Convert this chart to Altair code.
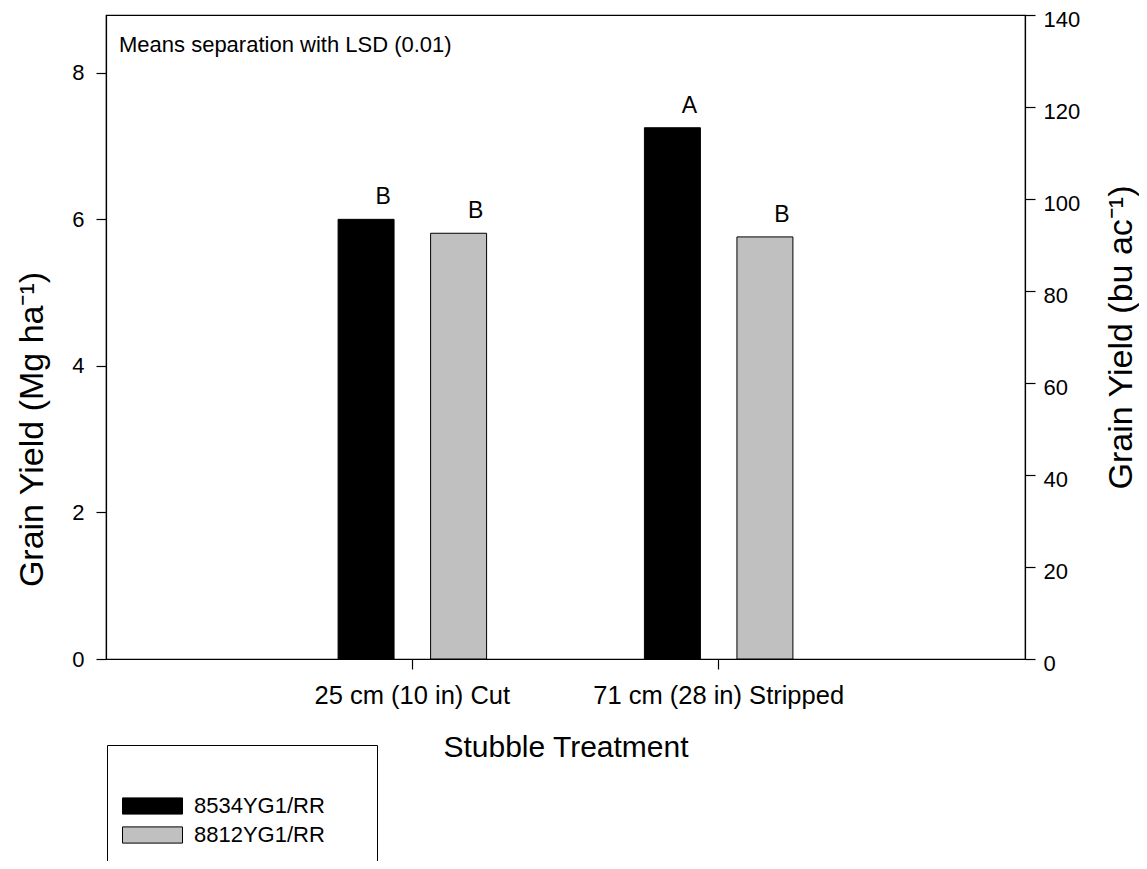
import altair as alt
import pandas as pd

# ---- data ----
treatments = ["25 cm (10 in) Cut", "25 cm (10 in) Cut",
              "71 cm (28 in) Stripped", "71 cm (28 in) Stripped"]
hybrids = ["8534YG1/RR", "8812YG1/RR", "8534YG1/RR", "8812YG1/RR"]
yield_mg = [6.00, 5.81, 7.25, 5.76]          # Mg/ha
letters = ["B", "B", "A", "B"]                # LSD (0.01) groups

treatment_order = ["25 cm (10 in) Cut", "71 cm (28 in) Stripped"]
hybrid_order = ["8534YG1/RR", "8812YG1/RR"]
hybrid_colors = ["#000000", "#c0c0c0"]

BU_PER_MG = 15.93                              # bu/ac per Mg/ha (corn)
right_max = 140
left_max = right_max / BU_PER_MG
left_ticks = [0, 2, 4, 6, 8]
right_ticks = [0, 20, 40, 60, 80, 100, 120, 140]
note = "Means separation with LSD (0.01)"

df = pd.DataFrame({"treatment": treatments, "hybrid": hybrids,
                   "yield": yield_mg, "letter": letters})
df["bu"] = df["yield"] * BU_PER_MG

FONT = "Liberation Sans"
BLANK = "\u2800"   # invisible, non-trimmed spacer used to widen the legend box

x_enc = alt.X("treatment:N", sort=treatment_order,
              scale=alt.Scale(paddingInner=0, paddingOuter=0.5),
              axis=alt.Axis(title="Stubble Treatment", labelAngle=0,
                            labelFontSize=25.5, titleFontSize=30, labelLimit=500,
                            labelPadding=14, titlePadding=24, tickSize=10))
xo_enc = alt.XOffset("hybrid:N", sort=hybrid_order,
                     scale=alt.Scale(paddingInner=0.395, paddingOuter=0.853))
y_scale = alt.Scale(domain=[0, left_max], nice=False, zero=True)
left_axis = alt.Axis(values=left_ticks, title="Grain Yield (Mg ha⁻¹)",
                     labelFontSize=22, titleFontSize=34, labelPadding=12,
                     tickSize=10, titleAngle=-90, titleBaseline="middle",
                     titleAlign="center", titleX=-74, titleY=414)
y_left = alt.Y("yield:Q", scale=y_scale, axis=left_axis)

bars = alt.Chart(df).mark_bar(stroke="black", strokeWidth=1).encode(
    x=x_enc,
    xOffset=xo_enc,
    y=y_left,
    color=alt.Color("hybrid:N",
                    scale=alt.Scale(domain=hybrid_order, range=hybrid_colors),
                    legend=alt.Legend(
                        title=BLANK * 15, titleFontSize=21.5, titlePadding=13.5,
                        titleLimit=600,
                        orient="none", legendX=1, legendY=730,
                        strokeColor="black", padding=15, fillColor="white",
                        symbolType="M-1,-0.27L1,-0.27L1,0.27L-1,0.27Z",
                        symbolSize=3600, symbolStrokeColor="black",
                        symbolStrokeWidth=1, symbolOpacity=1,
                        clipHeight=22, rowPadding=7, labelOffset=11,
                        labelFontSize=22, labelFont=FONT, titleFont=FONT)),
)

text = alt.Chart(df).mark_text(dx=17, dy=-10, baseline="bottom",
                               fontSize=23, font=FONT, color="black").encode(
    x=x_enc,
    xOffset=xo_enc,
    y=y_left,
    text="letter:N",
)

annot = alt.Chart(pd.DataFrame({"t": [note]})).mark_text(
    align="left", baseline="middle", fontSize=22, font=FONT, color="black"
).encode(x=alt.value(13), y=alt.value(30), text="t:N")

right = alt.Chart(df).mark_bar(opacity=0).encode(
    x=x_enc,
    xOffset=xo_enc,
    y=alt.Y("bu:Q", scale=alt.Scale(domain=[0, right_max], nice=False),
            axis=alt.Axis(orient="right", values=right_ticks,
                          title="Grain Yield (bu ac⁻¹)", labelFontSize=22,
                          labelOffset=4, titleFontSize=34, labelPadding=8,
                          tickSize=10, titleAngle=-90, titleBaseline="middle",
                          titleAlign="center", titleX=96, titleY=322)),
)

chart = alt.layer(alt.layer(bars, text, annot), right).resolve_scale(
    y="independent"
).properties(
    width=919, height=644,
    autosize=alt.AutoSizeParams(type="none"),
    padding={"left": 98, "top": 7, "right": 114, "bottom": 202},
).configure_view(stroke="black", strokeWidth=1.2).configure_axis(
    grid=False, domainColor="black", tickColor="black", labelColor="black",
    titleColor="black", labelFont=FONT, titleFont=FONT,
    titleFontWeight="normal", domainWidth=1.2, tickWidth=1.2,
).configure_legend(labelColor="black")

chart.save("out.html", embed_options={"renderer": "svg", "actions": False})
